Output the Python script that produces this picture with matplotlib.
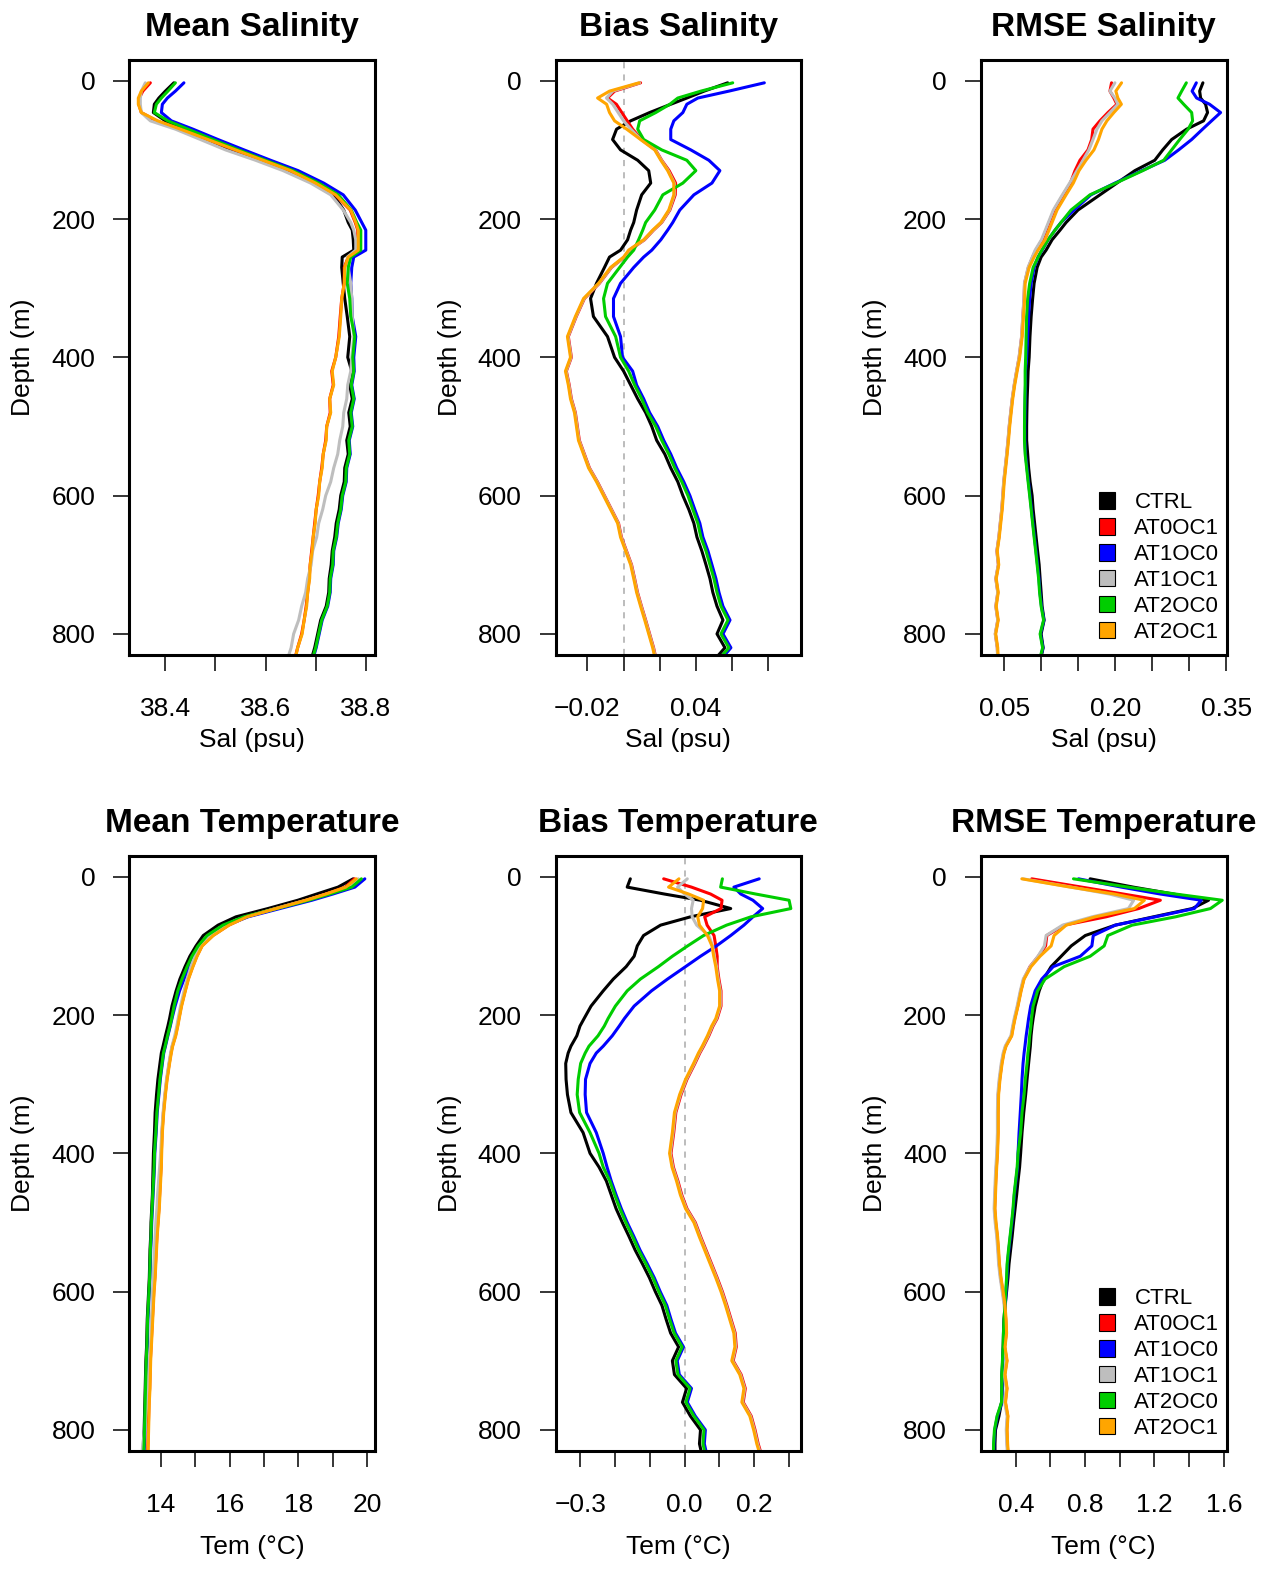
import matplotlib.pyplot as plt
from matplotlib.patches import Patch

plt.rcParams['font.family'] = ['Liberation Sans', 'DejaVu Sans']

# model levels (m)
depth = [3, 15, 25, 34, 46, 58, 70, 85, 100, 115, 130, 148, 165, 187, 205, 216, 230, 245, 255, 270,
         293, 315, 341, 370, 400, 420, 440, 460, 480, 500, 520, 540, 560, 580, 600, 620, 640, 660, 680,
         700, 720, 740, 760, 780, 800, 820, 840]

runs = ['CTRL', 'AT0OC1', 'AT1OC0', 'AT1OC1', 'AT2OC0', 'AT2OC1']
run_colors = ['black', '#FF0000', '#0000FF', '#BEBEBE', '#00CD00', '#FFA500']

# ---- mean salinity (psu)
sal_mean_ctrl = [38.417, 38.400, 38.387, 38.378, 38.376, 38.400, 38.437, 38.484, 38.530, 38.590, 38.645, 38.696,
                 38.735, 38.756, 38.765, 38.773, 38.775, 38.776, 38.753, 38.752, 38.755, 38.758, 38.763, 38.768,
                 38.764, 38.772, 38.768, 38.773, 38.766, 38.769, 38.762, 38.765, 38.758, 38.757, 38.750, 38.747,
                 38.741, 38.738, 38.733, 38.731, 38.727, 38.726, 38.721, 38.710, 38.704, 38.698, 38.690]
sal_mean_at0oc1 = [38.370, 38.355, 38.348, 38.347, 38.352, 38.382, 38.429, 38.484, 38.539, 38.594, 38.649, 38.699,
                   38.739, 38.769, 38.779, 38.784, 38.784, 38.784, 38.765, 38.757, 38.757, 38.752, 38.749, 38.746,
                   38.740, 38.732, 38.735, 38.728, 38.729, 38.722, 38.720, 38.715, 38.712, 38.708, 38.705, 38.701,
                   38.698, 38.695, 38.692, 38.689, 38.687, 38.684, 38.681, 38.677, 38.672, 38.664, 38.657]
sal_mean_at1oc0 = [38.437, 38.420, 38.404, 38.394, 38.392, 38.412, 38.455, 38.505, 38.557, 38.610, 38.665, 38.716,
                   38.755, 38.779, 38.792, 38.800, 38.800, 38.800, 38.776, 38.772, 38.770, 38.772, 38.773, 38.780,
                   38.776, 38.777, 38.772, 38.777, 38.771, 38.774, 38.767, 38.769, 38.762, 38.761, 38.754, 38.751,
                   38.745, 38.742, 38.736, 38.735, 38.730, 38.729, 38.724, 38.713, 38.707, 38.701, 38.693]
sal_mean_at1oc1 = [38.360, 38.352, 38.350, 38.350, 38.352, 38.370, 38.420, 38.470, 38.520, 38.580, 38.635, 38.690,
                   38.730, 38.755, 38.770, 38.776, 38.780, 38.780, 38.763, 38.765, 38.770, 38.772, 38.773, 38.776,
                   38.772, 38.770, 38.764, 38.762, 38.756, 38.754, 38.748, 38.744, 38.736, 38.730, 38.720, 38.714,
                   38.706, 38.702, 38.694, 38.691, 38.684, 38.680, 38.672, 38.666, 38.656, 38.651, 38.642]
sal_mean_at2oc0 = [38.420, 38.405, 38.392, 38.382, 38.378, 38.405, 38.445, 38.495, 38.546, 38.600, 38.655, 38.706,
                   38.745, 38.771, 38.782, 38.790, 38.790, 38.790, 38.770, 38.765, 38.763, 38.768, 38.770, 38.778,
                   38.774, 38.776, 38.771, 38.776, 38.770, 38.773, 38.766, 38.768, 38.761, 38.760, 38.753, 38.750,
                   38.744, 38.741, 38.735, 38.734, 38.729, 38.728, 38.723, 38.712, 38.706, 38.700, 38.692]
sal_mean_at2oc1 = [38.366, 38.352, 38.346, 38.346, 38.352, 38.385, 38.430, 38.485, 38.540, 38.595, 38.650, 38.700,
                   38.740, 38.770, 38.780, 38.785, 38.785, 38.785, 38.765, 38.758, 38.757, 38.752, 38.750, 38.747,
                   38.740, 38.733, 38.736, 38.728, 38.730, 38.722, 38.721, 38.715, 38.713, 38.708, 38.706, 38.701,
                   38.699, 38.695, 38.693, 38.689, 38.688, 38.684, 38.682, 38.677, 38.673, 38.664, 38.658]

# ---- salinity bias (psu)
sal_bias_ctrl = [0.0576, 0.0446, 0.035, 0.0261, 0.0144, 0.0039, -0.0039, -0.0061, -0.0017, 0.0078, 0.0139, 0.015,
                 0.01, 0.0072, 0.0056, 0.0039, 0.0022, -0.0017, -0.0078, -0.0106, -0.015, -0.0183, -0.0167, -0.0089,
                 -0.005, 0.0, 0.0039, 0.0078, 0.0122, 0.0156, 0.0183, 0.0228, 0.0261, 0.03, 0.0328, 0.0361,
                 0.0389, 0.0406, 0.0433, 0.0456, 0.0478, 0.0494, 0.0517, 0.055, 0.0517, 0.0561, 0.0494]
sal_bias_at0oc1 = [0.0094, -0.005, -0.0089, -0.004, -0.001, 0.002, 0.005, 0.0099, 0.0177, 0.0211, 0.0252, 0.0288,
                   0.0286, 0.0256, 0.0211, 0.0166, 0.0116, 0.0033, 0.0005, -0.0067, -0.0134, -0.0217, -0.0262, -0.0306,
                   -0.0289, -0.0317, -0.0301, -0.0289, -0.0267, -0.0256, -0.0245, -0.0217, -0.0189, -0.0145, -0.0106,
                   -0.0067, -0.0028, -0.0012, 0.0016, 0.0044, 0.0061, 0.0077, 0.0099, 0.0122, 0.0144, 0.0166, 0.0183]
sal_bias_at1oc0 = [0.0779, 0.0583, 0.0411, 0.035, 0.0328, 0.0278, 0.0261, 0.0261, 0.0372, 0.0472, 0.0533, 0.0489,
                   0.0389, 0.0311, 0.0272, 0.0244, 0.0206, 0.0156, 0.0111, 0.0056, -0.0017, -0.0056, -0.0056, -0.0017,
                   -0.0006, 0.005, 0.0072, 0.0111, 0.0144, 0.0189, 0.0222, 0.0261, 0.0294, 0.0333, 0.0367, 0.0394,
                   0.0422, 0.0439, 0.0467, 0.0489, 0.0511, 0.0528, 0.055, 0.0589, 0.055, 0.0594, 0.0528]
sal_bias_at1oc1 = [0.0089, -0.006, -0.0095, -0.006, -0.003, 0.0, 0.004, 0.0096, 0.0175, 0.0209, 0.0247, 0.0281,
                   0.0281, 0.0253, 0.0209, 0.0164, 0.0114, 0.0031, 0.0003, -0.0069, -0.0136, -0.0219, -0.0264, -0.0308,
                   -0.0291, -0.0319, -0.0303, -0.0291, -0.0269, -0.0258, -0.0247, -0.0219, -0.0191, -0.0147, -0.0108,
                   -0.0069, -0.003, -0.0014, 0.0014, 0.0042, 0.0059, 0.0075, 0.0097, 0.012, 0.0142, 0.0164, 0.0181]
sal_bias_at2oc0 = [0.0604, 0.0428, 0.03, 0.0256, 0.0178, 0.0089, 0.0078, 0.0111, 0.0211, 0.035, 0.04, 0.0328,
                   0.0217, 0.0172, 0.0122, 0.0106, 0.0083, 0.0056, 0.0022, -0.0022, -0.0089, -0.0111, -0.01, -0.0044,
                   -0.0017, 0.0028, 0.0061, 0.01, 0.0133, 0.0178, 0.0211, 0.025, 0.0283, 0.0322, 0.0356, 0.0383,
                   0.0411, 0.0428, 0.0456, 0.0478, 0.05, 0.0517, 0.0539, 0.0578, 0.0539, 0.0583, 0.0517]
sal_bias_at2oc1 = [0.0085, -0.0078, -0.0144, -0.0094, -0.0078, -0.005, 0.0017, 0.0094, 0.0172, 0.0206, 0.0244, 0.0278,
                   0.0278, 0.025, 0.0206, 0.0161, 0.0111, 0.0028, 0.0, -0.0072, -0.0139, -0.0222, -0.0267, -0.0311,
                   -0.0294, -0.0322, -0.0306, -0.0294, -0.0272, -0.0261, -0.025, -0.0222, -0.0194, -0.015, -0.0111,
                   -0.0072, -0.0033, -0.0017, 0.0011, 0.0039, 0.0056, 0.0072, 0.0094, 0.0117, 0.0139, 0.0161, 0.0178]

# ---- salinity rmse (psu)
sal_rmse_ctrl = [0.3186, 0.3142, 0.3155, 0.3222, 0.3249, 0.3195, 0.2966, 0.2764, 0.2643, 0.2535, 0.2266, 0.2023,
                 0.1794, 0.1497, 0.1336, 0.1255, 0.1147, 0.1066, 0.0999, 0.0945, 0.0904, 0.0884, 0.0864, 0.0848,
                 0.0837, 0.0823, 0.0817, 0.081, 0.0806, 0.0803, 0.0803, 0.0817, 0.083, 0.085, 0.0877, 0.0891,
                 0.0911, 0.0931, 0.0951, 0.0972, 0.0985, 0.0999, 0.1012, 0.1039, 0.0999, 0.1026, 0.0985]
sal_rmse_at0oc1 = [0.1951, 0.1929, 0.1982, 0.2023, 0.1902, 0.1794, 0.1700, 0.1682, 0.1632, 0.1524, 0.1457, 0.1394,
                   0.1296, 0.1174, 0.1107, 0.1066, 0.1013, 0.0928, 0.0884, 0.0827, 0.0775, 0.0768, 0.0752, 0.0736,
                   0.0702, 0.0668, 0.0636, 0.0609, 0.0588, 0.0568, 0.0552, 0.0534, 0.0514, 0.0494, 0.0481, 0.0467,
                   0.0447, 0.0428, 0.0401, 0.0421, 0.0387, 0.0414, 0.0387, 0.0414, 0.0380, 0.0407, 0.0414]
sal_rmse_at1oc0 = [0.3097, 0.304, 0.3101, 0.3276, 0.3425, 0.3303, 0.3182, 0.3034, 0.2858, 0.267, 0.236, 0.1996,
                   0.1672, 0.1443, 0.1268, 0.1187, 0.1093, 0.1012, 0.0958, 0.0904, 0.0864, 0.0844, 0.083, 0.0817,
                   0.0803, 0.0788, 0.0788, 0.0784, 0.0781, 0.0779, 0.0779, 0.0788, 0.0808, 0.0828, 0.0849, 0.0869,
                   0.0889, 0.0909, 0.093, 0.095, 0.097, 0.0983, 0.1004, 0.1037, 0.099, 0.1024, 0.0977]
sal_rmse_at1oc1 = [0.1996, 0.1929, 0.1996, 0.2036, 0.1929, 0.1821, 0.1754, 0.17, 0.1645, 0.1565, 0.1484, 0.1384,
                   0.1286, 0.1164, 0.1097, 0.1056, 0.1003, 0.0918, 0.0879, 0.0822, 0.0773, 0.0766, 0.075, 0.0734,
                   0.07, 0.0666, 0.0634, 0.0607, 0.0586, 0.0566, 0.055, 0.0532, 0.0512, 0.0492, 0.0479, 0.0465,
                   0.0445, 0.0426, 0.04, 0.0419, 0.0385, 0.0412, 0.0385, 0.0412, 0.0378, 0.0405, 0.0412]
sal_rmse_at2oc0 = [0.2962, 0.2899, 0.2849, 0.2926, 0.3034, 0.3047, 0.2987, 0.2872, 0.2764, 0.2656, 0.2373, 0.2009,
                   0.1659, 0.1403, 0.1268, 0.1187, 0.1093, 0.1008, 0.0958, 0.0891, 0.0844, 0.0817, 0.0803, 0.0796,
                   0.079, 0.0783, 0.0783, 0.0779, 0.0776, 0.0774, 0.0774, 0.0783, 0.0803, 0.0823, 0.0844, 0.0864,
                   0.0884, 0.0904, 0.0925, 0.0945, 0.0965, 0.0978, 0.0999, 0.1032, 0.0985, 0.1019, 0.0972]
sal_rmse_at2oc1 = [0.2086, 0.2009, 0.2036, 0.2084, 0.1982, 0.1888, 0.1821, 0.1774, 0.1713, 0.1605, 0.1511, 0.1434,
                   0.1336, 0.1214, 0.1147, 0.1106, 0.1053, 0.0958, 0.0904, 0.0837, 0.0783, 0.0776, 0.076, 0.0743,
                   0.0709, 0.0675, 0.0642, 0.0615, 0.0594, 0.0574, 0.0558, 0.054, 0.052, 0.05, 0.0487, 0.0473,
                   0.0453, 0.0433, 0.0406, 0.0426, 0.0392, 0.0419, 0.0392, 0.0419, 0.0385, 0.0412, 0.0419]

# ---- mean temperature (degC)
tem_mean_ctrl = [19.59, 19.15, 18.53, 17.98, 17.11, 16.18, 15.66, 15.23, 15.02, 14.84, 14.70, 14.55, 14.44, 14.32,
                 14.25, 14.20, 14.13, 14.06, 14.01, 13.97, 13.91, 13.87, 13.83, 13.81, 13.78, 13.77, 13.76, 13.75,
                 13.73, 13.71, 13.70, 13.68, 13.67, 13.66, 13.64, 13.62, 13.60, 13.59, 13.58, 13.56, 13.55, 13.54,
                 13.53, 13.52, 13.51, 13.50, 13.48]
tem_mean_at0oc1 = [19.63, 19.36, 18.79, 18.21, 17.34, 16.49, 15.97, 15.51, 15.19, 15.04, 14.92, 14.79, 14.70, 14.59,
                   14.52, 14.48, 14.42, 14.33, 14.29, 14.24, 14.17, 14.12, 14.07, 14.03, 14.01, 14.00, 13.98, 13.96,
                   13.94, 13.91, 13.88, 13.86, 13.84, 13.82, 13.79, 13.77, 13.75, 13.73, 13.71, 13.69, 13.68, 13.67,
                   13.65, 13.64, 13.63, 13.62, 13.61]
tem_mean_at1oc0 = [19.93, 19.64, 19.00, 18.39, 17.46, 16.53, 15.92, 15.45, 15.16, 14.96, 14.81, 14.67, 14.54, 14.41,
                   14.32, 14.27, 14.20, 14.13, 14.08, 14.04, 13.98, 13.94, 13.89, 13.86, 13.82, 13.81, 13.79, 13.77,
                   13.75, 13.73, 13.72, 13.70, 13.69, 13.68, 13.66, 13.64, 13.62, 13.61, 13.60, 13.58, 13.57, 13.56,
                   13.55, 13.54, 13.53, 13.52, 13.50]
tem_mean_at1oc1 = [19.74, 19.42, 18.82, 18.22, 17.33, 16.46, 15.93, 15.45, 15.12, 14.98, 14.87, 14.76, 14.67, 14.57,
                   14.50, 14.46, 14.40, 14.32, 14.28, 14.23, 14.16, 14.11, 14.06, 14.02, 13.99, 13.96, 13.93, 13.90,
                   13.88, 13.85, 13.83, 13.81, 13.79, 13.77, 13.75, 13.74, 13.72, 13.71, 13.69, 13.66, 13.64, 13.61,
                   13.59, 13.56, 13.53, 13.47, 13.44]
tem_mean_at2oc0 = [19.83, 19.55, 18.91, 18.30, 17.37, 16.41, 15.80, 15.34, 15.08, 14.90, 14.76, 14.61, 14.49, 14.38,
                   14.31, 14.26, 14.19, 14.12, 14.07, 14.03, 13.97, 13.93, 13.88, 13.85, 13.81, 13.80, 13.78, 13.76,
                   13.74, 13.72, 13.71, 13.69, 13.68, 13.67, 13.65, 13.63, 13.61, 13.60, 13.59, 13.57, 13.56, 13.55,
                   13.54, 13.53, 13.52, 13.51, 13.49]
tem_mean_at2oc1 = [19.68, 19.38, 18.80, 18.22, 17.35, 16.50, 15.98, 15.52, 15.20, 15.05, 14.93, 14.80, 14.71, 14.60,
                   14.53, 14.49, 14.43, 14.34, 14.30, 14.25, 14.18, 14.13, 14.08, 14.04, 14.02, 14.01, 13.99, 13.97,
                   13.95, 13.92, 13.89, 13.87, 13.85, 13.83, 13.80, 13.78, 13.76, 13.74, 13.72, 13.70, 13.69, 13.68,
                   13.66, 13.65, 13.64, 13.63, 13.62]

# ---- temperature bias (degC)
tem_bias_ctrl = [-0.156, -0.165, -0.058, 0.046, 0.133, 0.017, -0.069, -0.118, -0.136, -0.145, -0.168, -0.205,
                 -0.234, -0.269, -0.289, -0.301, -0.31, -0.327, -0.335, -0.342, -0.341, -0.337, -0.327, -0.292,
                 -0.272, -0.246, -0.225, -0.211, -0.197, -0.179, -0.16, -0.142, -0.121, -0.101, -0.084, -0.065,
                 -0.053, -0.040, -0.017, -0.035, -0.029, 0.006, -0.006, 0.017, 0.046, 0.043, 0.052]
tem_bias_at0oc1 = [-0.060, 0.020, 0.075, 0.108, 0.105, 0.058, 0.065, 0.085, 0.090, 0.094, 0.094, 0.099,
                   0.105, 0.105, 0.094, 0.082, 0.070, 0.055, 0.044, 0.030, 0.007, -0.010, -0.025, -0.031,
                   -0.039, -0.032, -0.019, -0.008, 0.007, 0.031, 0.046, 0.062, 0.078, 0.094, 0.109, 0.122,
                   0.134, 0.146, 0.149, 0.140, 0.163, 0.175, 0.169, 0.192, 0.203, 0.212, 0.224]
tem_bias_at1oc0 = [0.215, 0.142, 0.162, 0.197, 0.225, 0.197, 0.171, 0.133, 0.092, 0.046, 0.003, -0.049,
                   -0.095, -0.145, -0.173, -0.188, -0.208, -0.234, -0.254, -0.272, -0.285, -0.286, -0.282, -0.254,
                   -0.234, -0.223, -0.211, -0.197, -0.182, -0.165, -0.146, -0.128, -0.107, -0.087, -0.070, -0.051,
                   -0.039, -0.026, -0.003, -0.021, -0.015, 0.020, 0.008, 0.031, 0.060, 0.057, 0.066]
tem_bias_at1oc1 = [0.008, -0.020, 0.000, 0.025, 0.020, 0.022, 0.035, 0.070, 0.081, 0.086, 0.092, 0.097,
                   0.103, 0.103, 0.092, 0.080, 0.068, 0.053, 0.042, 0.028, 0.005, -0.012, -0.027, -0.033,
                   -0.041, -0.034, -0.021, -0.010, 0.005, 0.029, 0.044, 0.060, 0.076, 0.092, 0.107, 0.120,
                   0.132, 0.144, 0.147, 0.138, 0.161, 0.173, 0.167, 0.190, 0.201, 0.210, 0.222]
tem_bias_at2oc0 = [0.109, 0.104, 0.205, 0.301, 0.306, 0.191, 0.121, 0.055, 0.009, -0.035, -0.075, -0.127,
                   -0.165, -0.199, -0.220, -0.231, -0.249, -0.275, -0.286, -0.299, -0.306, -0.309, -0.302, -0.272,
                   -0.246, -0.234, -0.215, -0.201, -0.186, -0.169, -0.150, -0.132, -0.111, -0.091, -0.074, -0.055,
                   -0.043, -0.030, -0.007, -0.025, -0.019, 0.016, 0.004, 0.027, 0.056, 0.053, 0.062]
tem_bias_at2oc1 = [-0.016, -0.046, 0.012, 0.055, 0.052, 0.038, 0.043, 0.066, 0.079, 0.084, 0.090, 0.095,
                   0.101, 0.101, 0.090, 0.078, 0.066, 0.051, 0.040, 0.026, 0.003, -0.014, -0.029, -0.035,
                   -0.043, -0.036, -0.023, -0.012, 0.003, 0.027, 0.042, 0.058, 0.074, 0.090, 0.105, 0.118,
                   0.130, 0.142, 0.145, 0.136, 0.159, 0.171, 0.165, 0.188, 0.199, 0.208, 0.220]

# ---- temperature rmse (degC)
tem_rmse_ctrl = [0.829, 1.078, 1.309, 1.512, 1.418, 1.194, 0.974, 0.801, 0.720, 0.662, 0.604, 0.561, 0.535, 0.512,
                 0.500, 0.494, 0.488, 0.484, 0.480, 0.474, 0.465, 0.457, 0.446, 0.436, 0.428, 0.422, 0.413, 0.405,
                 0.396, 0.387, 0.379, 0.370, 0.361, 0.355, 0.347, 0.338, 0.332, 0.329, 0.327, 0.324, 0.321, 0.321,
                 0.318, 0.303, 0.283, 0.280, 0.280]
tem_rmse_at0oc1 = [0.492, 0.78, 1.02, 1.234, 1.109, 0.92, 0.68, 0.579, 0.572, 0.53, 0.482, 0.446, 0.429, 0.411,
                   0.394, 0.385, 0.375, 0.342, 0.330, 0.319, 0.307, 0.299, 0.297, 0.297, 0.293, 0.288, 0.284, 0.281,
                   0.278, 0.284, 0.293, 0.299, 0.304, 0.313, 0.325, 0.336, 0.342, 0.345, 0.336, 0.348, 0.336, 0.348,
                   0.339, 0.353, 0.348, 0.351, 0.356]
tem_rmse_at1oc0 = [0.762, 1.009, 1.234, 1.47, 1.43, 1.205, 0.974, 0.847, 0.839, 0.772, 0.616, 0.550, 0.512, 0.486,
                   0.474, 0.468, 0.460, 0.453, 0.448, 0.442, 0.436, 0.432, 0.426, 0.419, 0.413, 0.410, 0.401, 0.392,
                   0.386, 0.378, 0.369, 0.360, 0.352, 0.349, 0.344, 0.340, 0.334, 0.331, 0.329, 0.325, 0.321, 0.321,
                   0.320, 0.294, 0.279, 0.274, 0.273]
tem_rmse_at1oc1 = [0.442, 0.72, 0.94, 1.08, 1.05, 0.84, 0.67, 0.575, 0.565, 0.528, 0.483, 0.443, 0.426, 0.408,
                   0.391, 0.382, 0.372, 0.339, 0.327, 0.316, 0.304, 0.296, 0.294, 0.294, 0.290, 0.285, 0.281, 0.278,
                   0.275, 0.281, 0.290, 0.296, 0.301, 0.310, 0.322, 0.333, 0.339, 0.342, 0.333, 0.345, 0.333, 0.345,
                   0.336, 0.350, 0.345, 0.348, 0.353]
tem_rmse_at2oc0 = [0.733, 1.049, 1.321, 1.591, 1.523, 1.321, 1.071, 0.931, 0.910, 0.829, 0.679, 0.569, 0.526, 0.500,
                   0.491, 0.487, 0.480, 0.475, 0.470, 0.465, 0.455, 0.448, 0.436, 0.428, 0.413, 0.408, 0.399, 0.390,
                   0.384, 0.376, 0.367, 0.358, 0.350, 0.347, 0.342, 0.338, 0.332, 0.329, 0.327, 0.323, 0.319, 0.319,
                   0.318, 0.292, 0.277, 0.272, 0.271]
tem_rmse_at2oc1 = [0.435, 0.714, 0.968, 1.142, 1.084, 0.858, 0.691, 0.621, 0.604, 0.540, 0.488, 0.448, 0.431, 0.413,
                   0.396, 0.387, 0.377, 0.344, 0.332, 0.321, 0.309, 0.301, 0.299, 0.299, 0.295, 0.290, 0.286, 0.283,
                   0.280, 0.286, 0.295, 0.301, 0.306, 0.315, 0.327, 0.338, 0.344, 0.347, 0.338, 0.350, 0.338, 0.350,
                   0.341, 0.355, 0.350, 0.353, 0.358]

# axis ticks (blank label = tick without text, as R drops crowded labels)
sal_mean_ticks = [38.4, 38.5, 38.6, 38.7, 38.8]
sal_mean_labels = ['38.4', '', '38.6', '', '38.8']
sal_bias_ticks = [-0.02, 0.0, 0.02, 0.04, 0.06, 0.08]
sal_bias_labels = ['\u22120.02', '', '', '0.04', '', '']
sal_rmse_ticks = [0.05, 0.10, 0.15, 0.20, 0.25, 0.30, 0.35]
sal_rmse_labels = ['0.05', '', '', '0.20', '', '', '0.35']
tem_mean_ticks = [14, 15, 16, 17, 18, 19, 20]
tem_mean_labels = ['14', '', '16', '', '18', '', '20']
tem_bias_ticks = [-0.3, -0.2, -0.1, 0.0, 0.1, 0.2, 0.3]
tem_bias_labels = ['\u22120.3', '', '', '0.0', '', '0.2', '']
tem_rmse_ticks = [0.4, 0.6, 0.8, 1.0, 1.2, 1.4, 1.6]
tem_rmse_labels = ['0.4', '', '0.8', '', '1.2', '', '1.6']
depth_ticks = [0, 200, 400, 600, 800]

panels = [
    dict(title='Mean Salinity', xlabel='Sal (psu)', row=0, col=0, xlim=(38.328, 38.818),
         ticks=sal_mean_ticks, labels=sal_mean_labels, zero=False, legend=False,
         series=[sal_mean_ctrl, sal_mean_at0oc1, sal_mean_at1oc0, sal_mean_at1oc1, sal_mean_at2oc0, sal_mean_at2oc1]),
    dict(title='Bias Salinity', xlabel='Sal (psu)', row=0, col=1, xlim=(-0.0377, 0.0982),
         ticks=sal_bias_ticks, labels=sal_bias_labels, zero=True, legend=False,
         series=[sal_bias_ctrl, sal_bias_at0oc1, sal_bias_at1oc0, sal_bias_at1oc1, sal_bias_at2oc0, sal_bias_at2oc1]),
    dict(title='RMSE Salinity', xlabel='Sal (psu)', row=0, col=2, xlim=(0.0186, 0.3505),
         ticks=sal_rmse_ticks, labels=sal_rmse_labels, zero=False, legend=True,
         series=[sal_rmse_ctrl, sal_rmse_at0oc1, sal_rmse_at1oc0, sal_rmse_at1oc1, sal_rmse_at2oc0, sal_rmse_at2oc1]),
    dict(title='Mean Temperature', xlabel='Tem (\u00b0C)', row=1, col=0, xlim=(13.078, 20.22),
         ticks=tem_mean_ticks, labels=tem_mean_labels, zero=False, legend=False,
         series=[tem_mean_ctrl, tem_mean_at0oc1, tem_mean_at1oc0, tem_mean_at1oc1, tem_mean_at2oc0, tem_mean_at2oc1]),
    dict(title='Bias Temperature', xlabel='Tem (\u00b0C)', row=1, col=1, xlim=(-0.3714, 0.3353),
         ticks=tem_bias_ticks, labels=tem_bias_labels, zero=True, legend=False,
         series=[tem_bias_ctrl, tem_bias_at0oc1, tem_bias_at1oc0, tem_bias_at1oc1, tem_bias_at2oc0, tem_bias_at2oc1]),
    dict(title='RMSE Temperature', xlabel='Tem (\u00b0C)', row=1, col=2, xlim=(0.1994, 1.6156),
         ticks=tem_rmse_ticks, labels=tem_rmse_labels, zero=False, legend=True,
         series=[tem_rmse_ctrl, tem_rmse_at0oc1, tem_rmse_at1oc0, tem_rmse_at1oc1, tem_rmse_at2oc0, tem_rmse_at2oc1]),
]

W, H = 1271, 1571
fig = plt.figure(figsize=(W / 100, H / 100), dpi=100)

box_w, box_h = 245.5, 595
col_left = [129.3, 555.5, 981]
row_top = [60, 856]
xlabel_off = [85, 96]

for p in panels:
    left = col_left[p['col']]
    top = row_top[p['row']]
    ax = fig.add_axes([left / W, 1 - (top + box_h) / H, box_w / W, box_h / H])

    if p['zero']:
        ax.axvline(0, color='#AAAAAA', lw=1.1, ls=(0, (4, 4)), zorder=1)
    for vals, name, c in zip(p['series'], runs, run_colors):
        ax.plot(vals, depth[:len(vals)], color=c, lw=2.2, solid_joinstyle='round',
                solid_capstyle='round', label=name, zorder=2)

    ax.set_xlim(p['xlim'])
    ax.set_ylim(830.5, -30)
    ax.set_xticks(p['ticks'])
    ax.set_xticklabels(p['labels'])
    ax.set_yticks(depth_ticks)
    ax.set_yticklabels([str(d) for d in depth_ticks])
    ax.tick_params(direction='out', length=11.5, width=1.1, labelsize=19, color='black')
    ax.tick_params(axis='x', pad=18.5)
    ax.tick_params(axis='y', pad=13)
    for s in ax.spines.values():
        s.set_linewidth(2.2)

    ax.set_title(p['title'], fontsize=24, fontweight='bold', pad=17)
    ax.set_xlabel(p['xlabel'], fontsize=19)
    ax.xaxis.label.set_va('center')
    ax.xaxis.set_label_coords(0.5, -xlabel_off[p['row']] / box_h)
    ax.set_ylabel('Depth (m)', fontsize=19)
    ax.yaxis.label.set_va('center')
    ax.yaxis.set_label_coords(-106 / box_w, 0.5)

    if p['legend']:
        handles = [Patch(facecolor=c, edgecolor='black', lw=0.8) for c in run_colors]
        ax.legend(handles, runs, loc='lower right', frameon=False, fontsize=16,
                  handlelength=0.75, handleheight=0.75, handletextpad=0.85,
                  labelspacing=0.22, borderpad=0.0, borderaxespad=0.0,
                  bbox_to_anchor=(1 - 7 / box_w, 12.2 / box_h))

fig.savefig('out.png', dpi=100)
